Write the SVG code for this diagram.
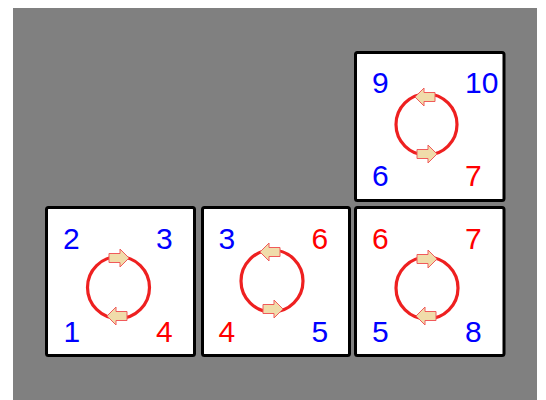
<svg xmlns="http://www.w3.org/2000/svg" width="546" height="400" viewBox="0 0 546 400">
  <style>
    .box { fill: #ffffff; stroke: #000000; stroke-width: 3; }
    .ring { fill: none; stroke: #ee2020; stroke-width: 3.2; }
    .lbl { font-family: "Liberation Sans", Arial, sans-serif; font-size: 30px; }
    .b { fill: #0000ff; }
    .r { fill: #ff0000; }
  </style>
  <defs>
    <polygon id="arr" points="-10,-4.5 1,-4.5 1,-9 10,0 1,9 1,4.5 -10,4.5" fill="#f0dcaa" stroke="#f05a5a" stroke-width="1"/>
  </defs>
  <rect x="13" y="8" width="524" height="392" fill="#808080"/>

  <g id="node-top">
    <rect class="box" x="355.5" y="52.5" width="148.5" height="148" rx="2"/>
    <circle class="ring" cx="426.5" cy="124.5" r="30.5"/>
    <use href="#arr" transform="translate(425,97) scale(-1,1)"/>
    <use href="#arr" transform="translate(427,154)"/>
    <text class="lbl b" x="372" y="93">9</text>
    <text class="lbl b" x="465" y="93">10</text>
    <text class="lbl b" x="372" y="186">6</text>
    <text class="lbl r" x="465" y="186">7</text>
  </g>

  <g id="node-left">
    <rect class="box" x="46.5" y="207.5" width="148" height="148" rx="2"/>
    <circle class="ring" cx="118.5" cy="287.5" r="31"/>
    <use href="#arr" transform="translate(119,258)"/>
    <use href="#arr" transform="translate(117,316) scale(-1,1)"/>
    <text class="lbl b" x="63" y="249">2</text>
    <text class="lbl b" x="156" y="249">3</text>
    <text class="lbl b" x="63.5" y="342">1</text>
    <text class="lbl r" x="156" y="342">4</text>
  </g>

  <g id="node-middle">
    <rect class="box" x="202.5" y="207.5" width="147" height="148" rx="2"/>
    <circle class="ring" cx="272" cy="281" r="31"/>
    <use href="#arr" transform="translate(270,252) scale(-1,1)"/>
    <use href="#arr" transform="translate(273,309)"/>
    <text class="lbl b" x="218.5" y="249">3</text>
    <text class="lbl r" x="311.5" y="249">6</text>
    <text class="lbl r" x="218.5" y="342">4</text>
    <text class="lbl b" x="311.5" y="342">5</text>
  </g>

  <g id="node-right">
    <rect class="box" x="355.5" y="207.5" width="148.5" height="148" rx="2"/>
    <circle class="ring" cx="427" cy="288" r="31"/>
    <use href="#arr" transform="translate(427,259)"/>
    <use href="#arr" transform="translate(426,316) scale(-1,1)"/>
    <text class="lbl r" x="372" y="249">6</text>
    <text class="lbl r" x="465" y="249">7</text>
    <text class="lbl b" x="372" y="342">5</text>
    <text class="lbl b" x="465" y="342">8</text>
  </g>

  <g id="connectors"></g>
</svg>
